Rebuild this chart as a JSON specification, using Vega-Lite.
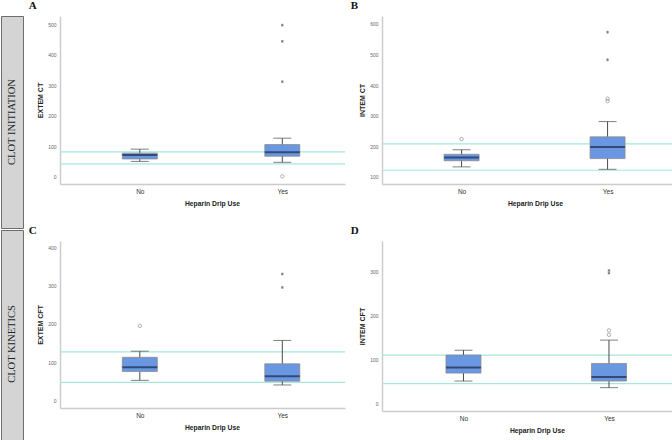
{
  "$schema": "https://vega.github.io/schema/vega-lite/v6.json",
  "padding": 0,
  "background": "white",
  "datasets": {
    "boxes": [
      {"panel": "A", "group": "No", "lower": 51, "q1": 59, "median": 72, "q3": 78, "upper": 91},
      {"panel": "A", "group": "Yes", "lower": 48, "q1": 68, "median": 81, "q3": 106, "upper": 127},
      {"panel": "B", "group": "No", "lower": 133, "q1": 153, "median": 164, "q3": 174, "upper": 189},
      {"panel": "B", "group": "Yes", "lower": 125, "q1": 160, "median": 198, "q3": 231, "upper": 281},
      {"panel": "C", "group": "No", "lower": 53, "q1": 76, "median": 87, "q3": 113, "upper": 129},
      {"panel": "C", "group": "Yes", "lower": 41, "q1": 51, "median": 64, "q3": 96, "upper": 157},
      {"panel": "D", "group": "No", "lower": 51, "q1": 69, "median": 82, "q3": 110, "upper": 121},
      {"panel": "D", "group": "Yes", "lower": 36, "q1": 51, "median": 60, "q3": 91, "upper": 144}
    ],
    "outliers": [
      {"panel": "A", "group": "Yes", "value": 2, "kind": "circle"},
      {"panel": "A", "group": "Yes", "value": 312, "kind": "star"},
      {"panel": "A", "group": "Yes", "value": 444, "kind": "star"},
      {"panel": "A", "group": "Yes", "value": 497, "kind": "star"},
      {"panel": "B", "group": "No", "value": 224, "kind": "circle"},
      {"panel": "B", "group": "Yes", "value": 348, "kind": "circle"},
      {"panel": "B", "group": "Yes", "value": 356, "kind": "circle"},
      {"panel": "B", "group": "Yes", "value": 483, "kind": "star"},
      {"panel": "B", "group": "Yes", "value": 573, "kind": "star"},
      {"panel": "C", "group": "No", "value": 195, "kind": "circle"},
      {"panel": "C", "group": "Yes", "value": 295, "kind": "star"},
      {"panel": "C", "group": "Yes", "value": 330, "kind": "star"},
      {"panel": "D", "group": "Yes", "value": 156, "kind": "circle"},
      {"panel": "D", "group": "Yes", "value": 166, "kind": "circle"},
      {"panel": "D", "group": "Yes", "value": 296, "kind": "star"},
      {"panel": "D", "group": "Yes", "value": 302, "kind": "star"}
    ],
    "refs": [
      {"panel": "A", "value": 43}, {"panel": "A", "value": 82},
      {"panel": "B", "value": 122}, {"panel": "B", "value": 208},
      {"panel": "C", "value": 48}, {"panel": "C", "value": 127},
      {"panel": "D", "value": 45}, {"panel": "D", "value": 110}
    ]
  },
  "config": {
    "view": {"stroke": null},
    "font": "Liberation Sans",
    "axisY": {"domainColor": "#cccccc", "domainWidth": 1.5, "ticks": false, "grid": false, "labelFontSize": 5, "labelColor": "#666666", "labelPadding": 4, "labelOverlap": false, "titleFontSize": 7, "titleFontWeight": "bold", "titleColor": "#222222", "titlePadding": 4},
    "axisX": {"domainColor": "#cccccc", "domainWidth": 1.5, "ticks": false, "grid": false, "labelFontSize": 6.5, "labelColor": "#333333", "labelPadding": 4, "labelAngle": 0, "titleFontSize": 6.8, "titleFontWeight": "bold", "titleColor": "#222222", "titlePadding": 6},
    "title": {"font": "Liberation Serif", "fontSize": 11, "fontWeight": "bold", "anchor": "start", "offset": 5, "dx": -8, "color": "#111111"}
  },
  "spacing": 4,
  "hconcat": [
    {
      "spacing": 0,
      "vconcat": [
        {
          "width": 22, "height": 212,
          "view": {"fill": "#d4d4d4", "stroke": "#6e6e6e", "strokeWidth": 1},
          "data": {"values": [{"label": "CLOT INITIATION"}]},
          "mark": {"type": "text", "angle": 270, "font": "Liberation Serif", "fontSize": 10.5, "color": "#222222"},
          "encoding": {"text": {"field": "label"}}
        },
        {
          "width": 22, "height": 228,
          "view": {"fill": "#d4d4d4", "stroke": "#6e6e6e", "strokeWidth": 1},
          "data": {"values": [{"label": "CLOT KINETICS"}]},
          "mark": {"type": "text", "angle": 270, "font": "Liberation Serif", "fontSize": 10.5, "color": "#222222"},
          "encoding": {"text": {"field": "label"}}
        }
      ]
    },
    {
      "spacing": 17,
      "vconcat": [
        {
          "width": 285, "height": 168,
          "title": "A",
          "layer": [
            {"data": {"name": "refs"}, "transform": [{"filter": "datum.panel === 'A'"}],
             "mark": {"type": "rule", "color": "#a6e6de", "strokeWidth": 1.2},
             "encoding": {"y": {"field": "value", "type": "quantitative", "title": "EXTEM CT", "scale": {"domain": [-23, 527], "nice": false, "zero": false}, "axis": {"values": [0, 100, 200, 300, 400, 500], "labelOverlap": false}}}},
            {"data": {"name": "boxes"}, "transform": [{"filter": "datum.panel === 'A'"}],
             "mark": {"type": "rule", "color": "#4a4a4a", "strokeWidth": 1},
             "encoding": {"x": {"field": "group", "type": "nominal", "title": "Heparin Drip Use", "scale": {"type": "point", "domain": ["No", "Yes"], "paddingOuter": 0.55, "align": 0.56}, "axis": {"titleX": 152}},
                          "y": {"field": "lower", "type": "quantitative", "scale": {"domain": [-23, 527], "nice": false, "zero": false}, "axis": {"values": [0, 100, 200, 300, 400, 500], "labelOverlap": false}}, "y2": {"field": "upper"}}},
            {"data": {"name": "boxes"}, "transform": [{"filter": "datum.panel === 'A'"}],
             "mark": {"type": "tick", "orient": "horizontal", "color": "#4a4a4a", "size": 18, "thickness": 1},
             "encoding": {"x": {"field": "group", "type": "nominal", "scale": {"type": "point", "domain": ["No", "Yes"], "paddingOuter": 0.55, "align": 0.56}}, "y": {"field": "upper", "type": "quantitative", "scale": {"domain": [-23, 527], "nice": false, "zero": false}, "axis": {"values": [0, 100, 200, 300, 400, 500], "labelOverlap": false}}}},
            {"data": {"name": "boxes"}, "transform": [{"filter": "datum.panel === 'A'"}],
             "mark": {"type": "tick", "orient": "horizontal", "color": "#4a4a4a", "size": 18, "thickness": 1},
             "encoding": {"x": {"field": "group", "type": "nominal", "scale": {"type": "point", "domain": ["No", "Yes"], "paddingOuter": 0.55, "align": 0.56}}, "y": {"field": "lower", "type": "quantitative", "scale": {"domain": [-23, 527], "nice": false, "zero": false}, "axis": {"values": [0, 100, 200, 300, 400, 500], "labelOverlap": false}}}},
            {"data": {"name": "boxes"}, "transform": [{"filter": "datum.panel === 'A'"}],
             "mark": {"type": "bar", "width": 35, "fill": "#6a97e2", "stroke": "#8c8c8c", "strokeWidth": 0.8},
             "encoding": {"x": {"field": "group", "type": "nominal", "scale": {"type": "point", "domain": ["No", "Yes"], "paddingOuter": 0.55, "align": 0.56}}, "y": {"field": "q1", "type": "quantitative", "scale": {"domain": [-23, 527], "nice": false, "zero": false}, "axis": {"values": [0, 100, 200, 300, 400, 500], "labelOverlap": false}}, "y2": {"field": "q3"}}},
            {"data": {"name": "boxes"}, "transform": [{"filter": "datum.panel === 'A'"}],
             "mark": {"type": "tick", "orient": "horizontal", "color": "#1c2a4a", "size": 35, "thickness": 2},
             "encoding": {"x": {"field": "group", "type": "nominal", "scale": {"type": "point", "domain": ["No", "Yes"], "paddingOuter": 0.55, "align": 0.56}}, "y": {"field": "median", "type": "quantitative", "scale": {"domain": [-23, 527], "nice": false, "zero": false}, "axis": {"values": [0, 100, 200, 300, 400, 500], "labelOverlap": false}}}},
            {"data": {"name": "outliers"}, "transform": [{"filter": "datum.panel === 'A' && datum.kind === 'circle'"}],
             "mark": {"type": "point", "filled": false, "color": "#777777", "size": 12, "strokeWidth": 0.8},
             "encoding": {"x": {"field": "group", "type": "nominal", "scale": {"type": "point", "domain": ["No", "Yes"], "paddingOuter": 0.55, "align": 0.56}}, "y": {"field": "value", "type": "quantitative", "scale": {"domain": [-23, 527], "nice": false, "zero": false}, "axis": {"values": [0, 100, 200, 300, 400, 500], "labelOverlap": false}}}},
            {"data": {"name": "outliers"}, "transform": [{"filter": "datum.panel === 'A' && datum.kind === 'star'"}],
             "mark": {"type": "point", "filled": false, "shape": "M0,-1L0,1M-0.87,-0.5L0.87,0.5M-0.87,0.5L0.87,-0.5", "color": "#333333", "size": 8, "strokeWidth": 0.8},
             "encoding": {"x": {"field": "group", "type": "nominal", "scale": {"type": "point", "domain": ["No", "Yes"], "paddingOuter": 0.55, "align": 0.56}}, "y": {"field": "value", "type": "quantitative", "scale": {"domain": [-23, 527], "nice": false, "zero": false}, "axis": {"values": [0, 100, 200, 300, 400, 500], "labelOverlap": false}}}}
          ]
        },
        {
          "width": 285, "height": 167,
          "title": "C",
          "layer": [
            {"data": {"name": "refs"}, "transform": [{"filter": "datum.panel === 'C'"}],
             "mark": {"type": "rule", "color": "#a6e6de", "strokeWidth": 1.2},
             "encoding": {"y": {"field": "value", "type": "quantitative", "title": "EXTEM CFT", "scale": {"domain": [-19, 416], "nice": false, "zero": false}, "axis": {"values": [0, 100, 200, 300, 400], "labelOverlap": false}}}},
            {"data": {"name": "boxes"}, "transform": [{"filter": "datum.panel === 'C'"}],
             "mark": {"type": "rule", "color": "#4a4a4a", "strokeWidth": 1},
             "encoding": {"x": {"field": "group", "type": "nominal", "title": "Heparin Drip Use", "scale": {"type": "point", "domain": ["No", "Yes"], "paddingOuter": 0.55, "align": 0.56}, "axis": {"titleX": 152}},
                          "y": {"field": "lower", "type": "quantitative", "scale": {"domain": [-19, 416], "nice": false, "zero": false}, "axis": {"values": [0, 100, 200, 300, 400], "labelOverlap": false}}, "y2": {"field": "upper"}}},
            {"data": {"name": "boxes"}, "transform": [{"filter": "datum.panel === 'C'"}],
             "mark": {"type": "tick", "orient": "horizontal", "color": "#4a4a4a", "size": 18, "thickness": 1},
             "encoding": {"x": {"field": "group", "type": "nominal", "scale": {"type": "point", "domain": ["No", "Yes"], "paddingOuter": 0.55, "align": 0.56}}, "y": {"field": "upper", "type": "quantitative", "scale": {"domain": [-19, 416], "nice": false, "zero": false}, "axis": {"values": [0, 100, 200, 300, 400], "labelOverlap": false}}}},
            {"data": {"name": "boxes"}, "transform": [{"filter": "datum.panel === 'C'"}],
             "mark": {"type": "tick", "orient": "horizontal", "color": "#4a4a4a", "size": 18, "thickness": 1},
             "encoding": {"x": {"field": "group", "type": "nominal", "scale": {"type": "point", "domain": ["No", "Yes"], "paddingOuter": 0.55, "align": 0.56}}, "y": {"field": "lower", "type": "quantitative", "scale": {"domain": [-19, 416], "nice": false, "zero": false}, "axis": {"values": [0, 100, 200, 300, 400], "labelOverlap": false}}}},
            {"data": {"name": "boxes"}, "transform": [{"filter": "datum.panel === 'C'"}],
             "mark": {"type": "bar", "width": 35, "fill": "#6a97e2", "stroke": "#8c8c8c", "strokeWidth": 0.8},
             "encoding": {"x": {"field": "group", "type": "nominal", "scale": {"type": "point", "domain": ["No", "Yes"], "paddingOuter": 0.55, "align": 0.56}}, "y": {"field": "q1", "type": "quantitative", "scale": {"domain": [-19, 416], "nice": false, "zero": false}, "axis": {"values": [0, 100, 200, 300, 400], "labelOverlap": false}}, "y2": {"field": "q3"}}},
            {"data": {"name": "boxes"}, "transform": [{"filter": "datum.panel === 'C'"}],
             "mark": {"type": "tick", "orient": "horizontal", "color": "#1c2a4a", "size": 35, "thickness": 2},
             "encoding": {"x": {"field": "group", "type": "nominal", "scale": {"type": "point", "domain": ["No", "Yes"], "paddingOuter": 0.55, "align": 0.56}}, "y": {"field": "median", "type": "quantitative", "scale": {"domain": [-19, 416], "nice": false, "zero": false}, "axis": {"values": [0, 100, 200, 300, 400], "labelOverlap": false}}}},
            {"data": {"name": "outliers"}, "transform": [{"filter": "datum.panel === 'C' && datum.kind === 'circle'"}],
             "mark": {"type": "point", "filled": false, "color": "#777777", "size": 12, "strokeWidth": 0.8},
             "encoding": {"x": {"field": "group", "type": "nominal", "scale": {"type": "point", "domain": ["No", "Yes"], "paddingOuter": 0.55, "align": 0.56}}, "y": {"field": "value", "type": "quantitative", "scale": {"domain": [-19, 416], "nice": false, "zero": false}, "axis": {"values": [0, 100, 200, 300, 400], "labelOverlap": false}}}},
            {"data": {"name": "outliers"}, "transform": [{"filter": "datum.panel === 'C' && datum.kind === 'star'"}],
             "mark": {"type": "point", "filled": false, "shape": "M0,-1L0,1M-0.87,-0.5L0.87,0.5M-0.87,0.5L0.87,-0.5", "color": "#333333", "size": 8, "strokeWidth": 0.8},
             "encoding": {"x": {"field": "group", "type": "nominal", "scale": {"type": "point", "domain": ["No", "Yes"], "paddingOuter": 0.55, "align": 0.56}}, "y": {"field": "value", "type": "quantitative", "scale": {"domain": [-19, 416], "nice": false, "zero": false}, "axis": {"values": [0, 100, 200, 300, 400], "labelOverlap": false}}}}
          ]
        }
      ]
    },
    {
      "spacing": 17,
      "vconcat": [
        {
          "width": 292, "height": 168,
          "title": "B",
          "layer": [
            {"data": {"name": "refs"}, "transform": [{"filter": "datum.panel === 'B'"}],
             "mark": {"type": "rule", "color": "#a6e6de", "strokeWidth": 1.2},
             "encoding": {"y": {"field": "value", "type": "quantitative", "title": "INTEM CT", "scale": {"domain": [77, 626], "nice": false, "zero": false}, "axis": {"values": [100, 200, 300, 400, 500, 600], "labelOverlap": false}}}},
            {"data": {"name": "boxes"}, "transform": [{"filter": "datum.panel === 'B'"}],
             "mark": {"type": "rule", "color": "#4a4a4a", "strokeWidth": 1},
             "encoding": {"x": {"field": "group", "type": "nominal", "title": "Heparin Drip Use", "scale": {"type": "point", "domain": ["No", "Yes"], "paddingOuter": 0.56, "align": 0.545}, "axis": {"titleX": 153}},
                          "y": {"field": "lower", "type": "quantitative", "scale": {"domain": [77, 626], "nice": false, "zero": false}, "axis": {"values": [100, 200, 300, 400, 500, 600], "labelOverlap": false}}, "y2": {"field": "upper"}}},
            {"data": {"name": "boxes"}, "transform": [{"filter": "datum.panel === 'B'"}],
             "mark": {"type": "tick", "orient": "horizontal", "color": "#4a4a4a", "size": 18, "thickness": 1},
             "encoding": {"x": {"field": "group", "type": "nominal", "scale": {"type": "point", "domain": ["No", "Yes"], "paddingOuter": 0.56, "align": 0.545}}, "y": {"field": "upper", "type": "quantitative", "scale": {"domain": [77, 626], "nice": false, "zero": false}, "axis": {"values": [100, 200, 300, 400, 500, 600], "labelOverlap": false}}}},
            {"data": {"name": "boxes"}, "transform": [{"filter": "datum.panel === 'B'"}],
             "mark": {"type": "tick", "orient": "horizontal", "color": "#4a4a4a", "size": 18, "thickness": 1},
             "encoding": {"x": {"field": "group", "type": "nominal", "scale": {"type": "point", "domain": ["No", "Yes"], "paddingOuter": 0.56, "align": 0.545}}, "y": {"field": "lower", "type": "quantitative", "scale": {"domain": [77, 626], "nice": false, "zero": false}, "axis": {"values": [100, 200, 300, 400, 500, 600], "labelOverlap": false}}}},
            {"data": {"name": "boxes"}, "transform": [{"filter": "datum.panel === 'B'"}],
             "mark": {"type": "bar", "width": 35, "fill": "#6a97e2", "stroke": "#8c8c8c", "strokeWidth": 0.8},
             "encoding": {"x": {"field": "group", "type": "nominal", "scale": {"type": "point", "domain": ["No", "Yes"], "paddingOuter": 0.56, "align": 0.545}}, "y": {"field": "q1", "type": "quantitative", "scale": {"domain": [77, 626], "nice": false, "zero": false}, "axis": {"values": [100, 200, 300, 400, 500, 600], "labelOverlap": false}}, "y2": {"field": "q3"}}},
            {"data": {"name": "boxes"}, "transform": [{"filter": "datum.panel === 'B'"}],
             "mark": {"type": "tick", "orient": "horizontal", "color": "#1c2a4a", "size": 35, "thickness": 2},
             "encoding": {"x": {"field": "group", "type": "nominal", "scale": {"type": "point", "domain": ["No", "Yes"], "paddingOuter": 0.56, "align": 0.545}}, "y": {"field": "median", "type": "quantitative", "scale": {"domain": [77, 626], "nice": false, "zero": false}, "axis": {"values": [100, 200, 300, 400, 500, 600], "labelOverlap": false}}}},
            {"data": {"name": "outliers"}, "transform": [{"filter": "datum.panel === 'B' && datum.kind === 'circle'"}],
             "mark": {"type": "point", "filled": false, "color": "#777777", "size": 12, "strokeWidth": 0.8},
             "encoding": {"x": {"field": "group", "type": "nominal", "scale": {"type": "point", "domain": ["No", "Yes"], "paddingOuter": 0.56, "align": 0.545}}, "y": {"field": "value", "type": "quantitative", "scale": {"domain": [77, 626], "nice": false, "zero": false}, "axis": {"values": [100, 200, 300, 400, 500, 600], "labelOverlap": false}}}},
            {"data": {"name": "outliers"}, "transform": [{"filter": "datum.panel === 'B' && datum.kind === 'star'"}],
             "mark": {"type": "point", "filled": false, "shape": "M0,-1L0,1M-0.87,-0.5L0.87,0.5M-0.87,0.5L0.87,-0.5", "color": "#333333", "size": 8, "strokeWidth": 0.8},
             "encoding": {"x": {"field": "group", "type": "nominal", "scale": {"type": "point", "domain": ["No", "Yes"], "paddingOuter": 0.56, "align": 0.545}}, "y": {"field": "value", "type": "quantitative", "scale": {"domain": [77, 626], "nice": false, "zero": false}, "axis": {"values": [100, 200, 300, 400, 500, 600], "labelOverlap": false}}}}
          ]
        },
        {
          "width": 291, "height": 170,
          "title": "D",
          "layer": [
            {"data": {"name": "refs"}, "transform": [{"filter": "datum.panel === 'D'"}],
             "mark": {"type": "rule", "color": "#a6e6de", "strokeWidth": 1.2},
             "encoding": {"y": {"field": "value", "type": "quantitative", "title": "INTEM CFT", "scale": {"domain": [-17, 369], "nice": false, "zero": false}, "axis": {"values": [0, 100, 200, 300], "labelOverlap": false}}}},
            {"data": {"name": "boxes"}, "transform": [{"filter": "datum.panel === 'D'"}],
             "mark": {"type": "rule", "color": "#4a4a4a", "strokeWidth": 1},
             "encoding": {"x": {"field": "group", "type": "nominal", "title": "Heparin Drip Use", "scale": {"type": "point", "domain": ["No", "Yes"], "paddingOuter": 0.55, "align": 0.56}, "axis": {"titleX": 155}},
                          "y": {"field": "lower", "type": "quantitative", "scale": {"domain": [-17, 369], "nice": false, "zero": false}, "axis": {"values": [0, 100, 200, 300], "labelOverlap": false}}, "y2": {"field": "upper"}}},
            {"data": {"name": "boxes"}, "transform": [{"filter": "datum.panel === 'D'"}],
             "mark": {"type": "tick", "orient": "horizontal", "color": "#4a4a4a", "size": 18, "thickness": 1},
             "encoding": {"x": {"field": "group", "type": "nominal", "scale": {"type": "point", "domain": ["No", "Yes"], "paddingOuter": 0.55, "align": 0.56}}, "y": {"field": "upper", "type": "quantitative", "scale": {"domain": [-17, 369], "nice": false, "zero": false}, "axis": {"values": [0, 100, 200, 300], "labelOverlap": false}}}},
            {"data": {"name": "boxes"}, "transform": [{"filter": "datum.panel === 'D'"}],
             "mark": {"type": "tick", "orient": "horizontal", "color": "#4a4a4a", "size": 18, "thickness": 1},
             "encoding": {"x": {"field": "group", "type": "nominal", "scale": {"type": "point", "domain": ["No", "Yes"], "paddingOuter": 0.55, "align": 0.56}}, "y": {"field": "lower", "type": "quantitative", "scale": {"domain": [-17, 369], "nice": false, "zero": false}, "axis": {"values": [0, 100, 200, 300], "labelOverlap": false}}}},
            {"data": {"name": "boxes"}, "transform": [{"filter": "datum.panel === 'D'"}],
             "mark": {"type": "bar", "width": 35, "fill": "#6a97e2", "stroke": "#8c8c8c", "strokeWidth": 0.8},
             "encoding": {"x": {"field": "group", "type": "nominal", "scale": {"type": "point", "domain": ["No", "Yes"], "paddingOuter": 0.55, "align": 0.56}}, "y": {"field": "q1", "type": "quantitative", "scale": {"domain": [-17, 369], "nice": false, "zero": false}, "axis": {"values": [0, 100, 200, 300], "labelOverlap": false}}, "y2": {"field": "q3"}}},
            {"data": {"name": "boxes"}, "transform": [{"filter": "datum.panel === 'D'"}],
             "mark": {"type": "tick", "orient": "horizontal", "color": "#1c2a4a", "size": 35, "thickness": 2},
             "encoding": {"x": {"field": "group", "type": "nominal", "scale": {"type": "point", "domain": ["No", "Yes"], "paddingOuter": 0.55, "align": 0.56}}, "y": {"field": "median", "type": "quantitative", "scale": {"domain": [-17, 369], "nice": false, "zero": false}, "axis": {"values": [0, 100, 200, 300], "labelOverlap": false}}}},
            {"data": {"name": "outliers"}, "transform": [{"filter": "datum.panel === 'D' && datum.kind === 'circle'"}],
             "mark": {"type": "point", "filled": false, "color": "#777777", "size": 12, "strokeWidth": 0.8},
             "encoding": {"x": {"field": "group", "type": "nominal", "scale": {"type": "point", "domain": ["No", "Yes"], "paddingOuter": 0.55, "align": 0.56}}, "y": {"field": "value", "type": "quantitative", "scale": {"domain": [-17, 369], "nice": false, "zero": false}, "axis": {"values": [0, 100, 200, 300], "labelOverlap": false}}}},
            {"data": {"name": "outliers"}, "transform": [{"filter": "datum.panel === 'D' && datum.kind === 'star'"}],
             "mark": {"type": "point", "filled": false, "shape": "M0,-1L0,1M-0.87,-0.5L0.87,0.5M-0.87,0.5L0.87,-0.5", "color": "#333333", "size": 8, "strokeWidth": 0.8},
             "encoding": {"x": {"field": "group", "type": "nominal", "scale": {"type": "point", "domain": ["No", "Yes"], "paddingOuter": 0.55, "align": 0.56}}, "y": {"field": "value", "type": "quantitative", "scale": {"domain": [-17, 369], "nice": false, "zero": false}, "axis": {"values": [0, 100, 200, 300], "labelOverlap": false}}}}
          ]
        }
      ]
    }
  ]
}
